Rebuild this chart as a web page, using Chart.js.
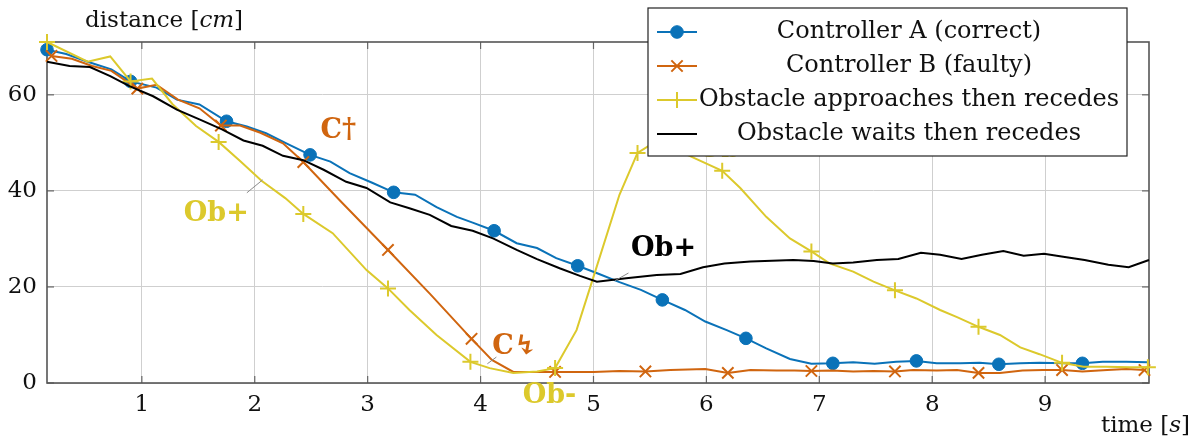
<!DOCTYPE html>
<html>
<head>
<meta charset="utf-8">
<script src="https://cdn.jsdelivr.net/npm/chart.js@4/dist/chart.umd.min.js"></script>
<style>
  html, body { margin: 0; padding: 0; background: #fff; }
</style>
</head>
<body>
<canvas id="chart" width="1200" height="443"></canvas>
<script>
/* ---- values ---- */

// Controller A (correct)
const timeA = [0.16, 0.33, 0.52, 0.73, 0.90, 1.13, 1.31, 1.51, 1.75, 1.93, 2.10, 2.28, 2.49, 2.67, 2.84, 3.04, 3.23, 3.42, 3.61, 3.79, 3.93, 4.12, 4.32, 4.50, 4.67, 4.86, 5.05, 5.23, 5.42, 5.61, 5.81, 5.99, 6.18, 6.35, 6.53, 6.74, 6.93, 7.12, 7.30, 7.49, 7.68, 7.86, 8.04, 8.25, 8.42, 8.59, 8.78, 8.95, 9.16, 9.33, 9.51, 9.72, 9.91];
const distA = [69.4, 68.5, 66.9, 65.3, 62.8, 61.5, 59.0, 58.0, 54.5, 53.4, 52.0, 49.9, 47.5, 46.1, 43.7, 41.7, 39.7, 39.2, 36.6, 34.6, 33.4, 31.7, 29.1, 28.1, 26.0, 24.4, 22.7, 21.0, 19.4, 17.3, 15.2, 12.8, 11.0, 9.3, 7.2, 5.0, 4.0, 4.1, 4.3, 4.0, 4.4, 4.6, 4.1, 4.1, 4.2, 3.9, 4.1, 4.2, 4.1, 4.1, 4.4, 4.4, 4.3];
const markA = [0, 4, 8, 12, 16, 21, 25, 29, 33, 37, 41, 45, 49];

// Controller B (faulty)
const timeB = [0.20, 0.38, 0.56, 0.73, 0.96, 1.13, 1.32, 1.51, 1.70, 1.87, 2.05, 2.25, 2.43, 2.75, 3.18, 3.55, 3.92, 4.10, 4.29, 4.47, 4.66, 5.00, 5.23, 5.46, 5.68, 5.99, 6.19, 6.39, 6.62, 6.78, 6.93, 7.11, 7.30, 7.48, 7.67, 7.83, 8.04, 8.22, 8.41, 8.60, 8.80, 8.98, 9.15, 9.33, 9.55, 9.72, 9.88];
const distB = [68.1, 67.5, 66.0, 65.0, 61.3, 62.1, 59.0, 57.2, 53.6, 53.6, 52.1, 49.9, 46.0, 38.1, 27.7, 18.6, 9.2, 4.8, 2.3, 2.3, 2.3, 2.3, 2.5, 2.4, 2.7, 2.9, 2.1, 2.7, 2.6, 2.6, 2.5, 2.6, 2.4, 2.5, 2.4, 2.7, 2.6, 2.7, 2.1, 2.1, 2.6, 2.7, 2.7, 2.4, 2.7, 2.9, 2.7];
const markB = [0, 4, 8, 12, 14, 16, 20, 23, 26, 30, 34, 38, 42, 46];

// Obstacle approaches then recedes
const timeC = [0.16, 0.52, 0.72, 0.90, 1.09, 1.27, 1.48, 1.68, 1.87, 2.06, 2.27, 2.43, 2.69, 2.99, 3.18, 3.37, 3.61, 3.91, 4.08, 4.29, 4.50, 4.66, 4.85, 5.00, 5.23, 5.39, 5.56, 5.87, 6.14, 6.30, 6.53, 6.74, 6.93, 7.09, 7.30, 7.48, 7.67, 7.86, 8.07, 8.22, 8.41, 8.60, 8.78, 8.95, 9.15, 9.34, 9.54, 9.75, 9.91];
const distC = [71.0, 66.9, 68.0, 62.8, 63.4, 58.1, 53.5, 50.2, 46.2, 42.1, 38.5, 35.2, 31.2, 23.5, 19.7, 15.2, 10.0, 4.4, 3.1, 2.1, 2.4, 3.1, 11.0, 22.1, 39.2, 47.9, 50.4, 47.1, 44.2, 40.6, 34.6, 30.1, 27.4, 24.9, 23.2, 21.1, 19.3, 17.6, 15.2, 13.7, 11.7, 10.0, 7.4, 6.0, 4.2, 3.4, 3.4, 3.3, 3.3];
const markC = [0, 3, 7, 11, 14, 17, 21, 25, 28, 32, 36, 40, 44, 48];

// Obstacle waits then recedes
const timeD = [0.16, 0.36, 0.54, 0.72, 0.89, 1.10, 1.31, 1.51, 1.71, 1.90, 2.07, 2.25, 2.43, 2.61, 2.81, 2.99, 3.20, 3.37, 3.55, 3.74, 3.93, 4.11, 4.32, 4.50, 4.70, 4.88, 5.03, 5.29, 5.56, 5.77, 5.97, 6.16, 6.39, 6.77, 6.95, 7.12, 7.30, 7.51, 7.70, 7.90, 8.07, 8.26, 8.44, 8.63, 8.81, 8.99, 9.16, 9.35, 9.56, 9.74, 9.92];
const distD = [66.9, 66.0, 65.8, 63.9, 61.8, 59.7, 56.9, 54.9, 52.8, 50.5, 49.4, 47.3, 46.4, 44.4, 41.9, 40.6, 37.6, 36.4, 35.0, 32.7, 31.7, 30.1, 27.7, 25.8, 23.9, 22.3, 21.1, 21.8, 22.5, 22.7, 24.1, 24.9, 25.3, 25.6, 25.4, 24.9, 25.1, 25.6, 25.8, 27.1, 26.7, 25.8, 26.7, 27.5, 26.5, 26.9, 26.3, 25.6, 24.6, 24.1, 25.6];

const seriesNames = [
    "Controller A (correct)",
    "Controller B (faulty)",
    "Obstacle approaches then recedes",
    "Obstacle waits then recedes"
];

const xTicks = [1, 2, 3, 4, 5, 6, 7, 8, 9];
const yTicks = [0, 20, 40, 60];

/* ---- look ---- */

const FONT = '"DejaVu Serif", serif';
const BLUE = "#0a72b8";
const ORANGE = "#d0650f";
const YELLOW = "#dcc92c";
const BLACK = "#000000";

Chart.defaults.font.family = FONT;
Chart.defaults.color = "#111";

function points(times, values) {
    return times.map((t, i) => ({ x: t, y: values[i] }));
}

function markers(list, r) {
    return (c) => list.includes(c.dataIndex) ? r : 0;
}

function seg(ctx, x1, y1, x2, y2) {
    ctx.beginPath();
    ctx.moveTo(x1, y1);
    ctx.lineTo(x2, y2);
    ctx.stroke();
}

// notes placed on the plot, in data coordinates
const notes = [
    { text: "C\u2020", t: 2.74, v: 52.4, color: ORANGE },
    { text: "Ob+", t: 1.66, v: 35.2, color: YELLOW },
    { text: "C\u21af", t: 4.30, v: 7.4, color: ORANGE },
    { text: "Ob-", t: 4.61, v: -2.7, color: YELLOW },
    { text: "Ob+", t: 5.62, v: 27.8, color: BLACK },
    { text: "Ob-", t: 6.16, v: 48.5, color: YELLOW }
];

const pins = [
    [1.93, 39.6, 2.07, 42.3],
    [4.06, 4.0, 4.14, 5.4],
    [5.19, 21.3, 5.31, 22.9]
];

const decor = {
    id: "decor",

    beforeDatasetsDraw(chart) {
        const { ctx, chartArea: a, scales: { x, y } } = chart;
        ctx.save();
        ctx.strokeStyle = "#666";
        ctx.lineWidth = 1.2;
        xTicks.forEach((v) => {
            const px = x.getPixelForValue(v);
            seg(ctx, px, a.bottom, px, a.bottom - 7);
            seg(ctx, px, a.top, px, a.top + 7);
        });
        yTicks.forEach((v) => {
            const py = y.getPixelForValue(v);
            seg(ctx, a.left, py, a.left + 7, py);
            seg(ctx, a.right, py, a.right - 7, py);
        });
        ctx.strokeStyle = "#555";
        ctx.lineWidth = 1.6;
        ctx.strokeRect(a.left, a.top, a.right - a.left, a.bottom - a.top);
        ctx.restore();
    },

    afterDatasetsDraw(chart) {
        const { ctx, scales: { x, y } } = chart;
        ctx.save();

        // pins
        ctx.strokeStyle = "#8a8a8a";
        ctx.lineWidth = 1;
        pins.forEach((p) => {
            seg(ctx, x.getPixelForValue(p[0]), y.getPixelForValue(p[1]),
                x.getPixelForValue(p[2]), y.getPixelForValue(p[3]));
        });

        // notes
        ctx.font = "bold 27px " + FONT;
        ctx.textAlign = "center";
        ctx.textBaseline = "middle";
        notes.forEach((n) => {
            ctx.fillStyle = n.color;
            ctx.fillText(n.text, x.getPixelForValue(n.t), y.getPixelForValue(n.v));
        });

        // legend
        const box = { l: 648, t: 8, r: 1127, b: 156 };
        ctx.fillStyle = "#fff";
        ctx.fillRect(box.l, box.t, box.r - box.l, box.b - box.t);
        ctx.strokeStyle = "#222";
        ctx.lineWidth = 1.2;
        ctx.strokeRect(box.l, box.t, box.r - box.l, box.b - box.t);

        ctx.font = "24px " + FONT;
        ctx.textAlign = "center";
        ctx.textBaseline = "middle";
        const rows = [32, 66, 100, 134];
        chart.data.datasets.forEach((ds, i) => {
            const ry = rows[i];
            ctx.strokeStyle = ds.borderColor;
            ctx.lineWidth = ds.borderWidth;
            seg(ctx, 657, ry, 697, ry);
            if (ds.legendRadius) {
                ctx.fillStyle = ds.pointBackgroundColor;
                ctx.strokeStyle = ds.borderColor;
                ctx.lineWidth = ds.pointBorderWidth;
                Chart.helpers.drawPoint(ctx, {
                    pointStyle: ds.pointStyle,
                    radius: ds.legendRadius,
                    borderWidth: ds.pointBorderWidth,
                    rotation: 0
                }, 677, ry);
            }
            ctx.fillStyle = "#111";
            ctx.fillText(seriesNames[i], 909, ry);
        });

        // axis titles
        const size = "23px ";
        ctx.textAlign = "left";
        ctx.textBaseline = "alphabetic";
        ctx.fillStyle = "#111";
        let cx = 85;
        ctx.font = size + FONT;
        ctx.fillText("distance [", cx, 27);
        cx += ctx.measureText("distance [").width;
        ctx.font = "italic " + size + FONT;
        ctx.fillText("cm", cx, 27);
        cx += ctx.measureText("cm").width;
        ctx.font = size + FONT;
        ctx.fillText("]", cx, 27);

        ctx.font = size + FONT;
        const w1 = ctx.measureText("time [").width;
        const w3 = ctx.measureText("]").width;
        ctx.font = "italic " + size + FONT;
        const w2 = ctx.measureText("s").width;
        cx = 1190 - (w1 + w2 + w3);
        ctx.font = size + FONT;
        ctx.fillText("time [", cx, 432);
        ctx.font = "italic " + size + FONT;
        ctx.fillText("s", cx + w1, 432);
        ctx.font = size + FONT;
        ctx.fillText("]", cx + w1 + w2, 432);

        ctx.restore();
    }
};

new Chart(document.getElementById("chart"), {
    type: "line",
    data: {
        datasets: [
            {
                label: seriesNames[0],
                data: points(timeA, distA),
                borderColor: BLUE,
                backgroundColor: BLUE,
                pointBackgroundColor: BLUE,
                pointBorderColor: BLUE,
                borderWidth: 2,
                pointStyle: "circle",
                pointRadius: markers(markA, 6.3),
                pointBorderWidth: 1,
                legendRadius: 6.3,
                order: 4
            },
            {
                label: seriesNames[1],
                data: points(timeB, distB),
                borderColor: ORANGE,
                backgroundColor: ORANGE,
                pointBackgroundColor: ORANGE,
                pointBorderColor: ORANGE,
                borderWidth: 2,
                pointStyle: "crossRot",
                pointRadius: markers(markB, 8),
                pointBorderWidth: 2,
                legendRadius: 8,
                order: 3
            },
            {
                label: seriesNames[2],
                data: points(timeC, distC),
                borderColor: YELLOW,
                backgroundColor: YELLOW,
                pointBackgroundColor: YELLOW,
                pointBorderColor: YELLOW,
                borderWidth: 2,
                pointStyle: "cross",
                pointRadius: markers(markC, 8),
                pointBorderWidth: 2,
                legendRadius: 8,
                order: 2
            },
            {
                label: seriesNames[3],
                data: points(timeD, distD),
                borderColor: BLACK,
                backgroundColor: BLACK,
                borderWidth: 2,
                pointRadius: 0,
                legendRadius: 0,
                order: 1
            }
        ]
    },
    options: {
        responsive: false,
        animation: false,
        clip: false,
        layout: {
            padding: { top: 42, right: 51, left: 0, bottom: 0 }
        },
        plugins: {
            legend: { display: false },
            tooltip: { enabled: false }
        },
        elements: {
            line: { tension: 0 }
        },
        scales: {
            x: {
                type: "linear",
                min: 0.16,
                max: 9.92,
                afterBuildTicks: (s) => { s.ticks = xTicks.map((v) => ({ value: v })); },
                afterFit: (s) => { s.height = 60; },
                grid: { color: "#cfcfcf", lineWidth: 1, drawTicks: false },
                border: { display: false },
                ticks: { padding: 8, font: { size: 23 }, color: "#111" }
            },
            y: {
                type: "linear",
                min: 0,
                max: 71,
                afterBuildTicks: (s) => { s.ticks = yTicks.map((v) => ({ value: v })); },
                afterFit: (s) => { s.width = 47; },
                grid: { color: "#cfcfcf", lineWidth: 1, drawTicks: false },
                border: { display: false },
                ticks: { padding: 10, font: { size: 23 }, color: "#111" }
            }
        }
    },
    plugins: [decor]
});
</script>
</body>
</html>
